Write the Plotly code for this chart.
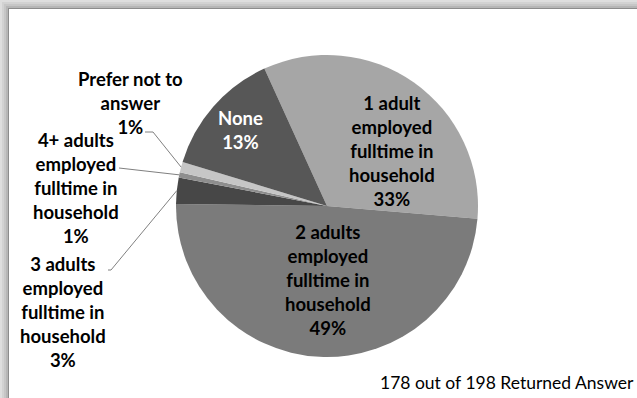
import math
import plotly.graph_objects as go

W, H = 637, 398

# data: households by number of adults employed fulltime (178 answers)
names = [
    "1 adult employed fulltime in household",
    "2 adults employed fulltime in household",
    "3 adults employed fulltime in household",
    "4+ adults employed fulltime in household",
    "Prefer not to answer",
    "None",
]
wrapped = [
    "1 adult<br>employed<br>fulltime in<br>household",
    "2 adults<br>employed<br>fulltime in<br>household",
    "3 adults<br>employed<br>fulltime in<br>household",
    "4+ adults<br>employed<br>fulltime in<br>household",
    "Prefer not to<br>answer",
    "None",
]
counts = [59, 87, 5, 1, 2, 24]
colors = ["#a6a6a6", "#7b7b7b", "#474747", "#8e8e8e", "#c6c6c6", "#575757"]
note = "178 out of 198 Returned Answer"

total = sum(counts)
pcts = [f"{round(100 * c / total)}%" for c in counts]


def px(x):
    return x / W


def py(y):
    return 1 - y / H


# pie geometry (pixels)
cx, cy, r = 327, 206, 151
rotation = -24.5

fig = go.Figure()
fig.add_trace(go.Pie(
    labels=names,
    values=counts,
    sort=False,
    direction="clockwise",
    rotation=rotation,
    marker=dict(colors=colors, line=dict(width=0)),
    textinfo="none",
    hovertemplate="%{label}: %{value} (%{percent})<extra></extra>",
    domain=dict(x=[px(cx - r), px(cx + r)], y=[py(cy + r), py(cy - r)]),
    showlegend=False,
))

# mid angle of each slice, used for leader lines
mids = []
a = rotation
for c in counts:
    span = c / total * 360
    mids.append(a + span / 2)
    a += span


def edge(i):
    t = math.radians(mids[i])
    return cx + r * math.sin(t), cy - r * math.cos(t)


# frame with shadow on top and left
shapes = []
bands = [(0, "#dedede"), (2, "#d2d2d2"), (4, "#c6c6c6"), (6, "#b6b6b6"),
         (8, "#8c8c8c"), (9, "#ffffff")]
for k, col in bands:
    shapes.append(dict(type="rect", xref="paper", yref="paper",
                       x0=px(k), x1=1, y0=0, y1=py(k),
                       fillcolor=col, line=dict(width=0), layer="below"))

# leader lines for small slices: (index, start points near text)
leaders = [
    (4, [(145, 132), (153, 132)]),
    (3, [(119, 168)]),
    (2, [(108, 270), (111, 270)]),
]
for i, pts in leaders:
    ex, ey = edge(i)
    path = "M " + " L ".join(f"{px(x)},{py(y)}" for x, y in pts + [(ex, ey)])
    shapes.append(dict(type="path", xref="paper", yref="paper", path=path,
                       line=dict(color="#808080", width=1)))

# label centres (pixels) and text colour
label_pos = [
    (392, 151, "black"),
    (328, 280, "black"),
    (63, 312, "black"),
    (76, 188, "black"),
    (130, 103, "black"),
    (240, 130, "white"),
]
annotations = []
for i, (x, y, col) in enumerate(label_pos):
    annotations.append(dict(
        x=px(x), y=py(y), xref="paper", yref="paper",
        text=f"<b>{wrapped[i]}<br>{pcts[i]}</b>",
        showarrow=False, align="center", xanchor="center", yanchor="middle",
        font=dict(family="Lato", size=18.5, color=col),
    ))

annotations.append(dict(
    x=px(636), y=py(382), xref="paper", yref="paper", text=note,
    showarrow=False, xanchor="right", yanchor="middle",
    font=dict(family="Lato", size=17.5, color="black"),
))

fig.update_layout(
    width=W, height=H,
    margin=dict(l=0, r=0, t=0, b=0),
    paper_bgcolor="white",
    shapes=shapes,
    annotations=annotations,
)

# drop the default body margin so the figure fills the window exactly
fig.write_html("out.html",
               config={"displayModeBar": False},
               post_script="document.body.style.margin='0';"
                           "document.body.style.overflow='hidden';")
